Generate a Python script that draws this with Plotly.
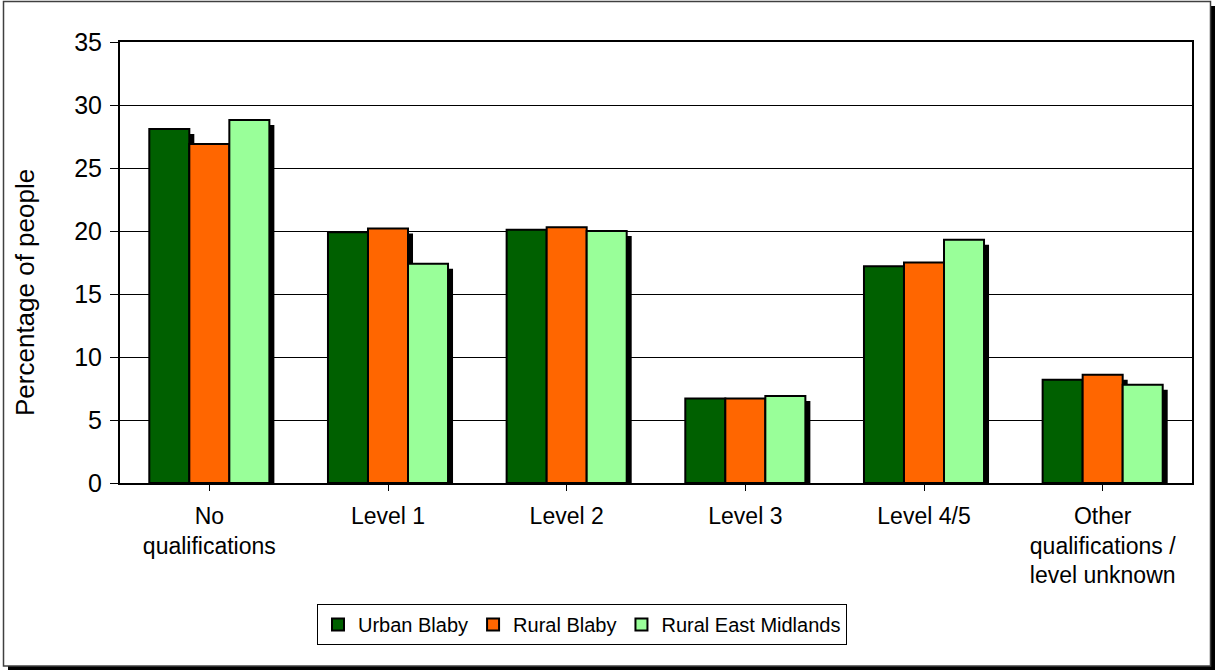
import plotly.graph_objects as go

categories = ["No<br>qualifications", "Level 1", "Level 2", "Level 3", "Level 4/5",
              "Other<br>qualifications /<br>level unknown"]
series_names = ["Urban Blaby", "Rural Blaby", "Rural East Midlands"]
urban_blaby = [28.1, 19.9, 20.1, 6.7, 17.2, 8.2]
rural_blaby = [26.9, 20.2, 20.3, 6.7, 17.5, 8.6]
rural_east_midlands = [28.8, 17.4, 20.0, 6.9, 19.3, 7.8]
y_ticks = [0, 5, 10, 15, 20, 25, 30, 35]

series_values = [urban_blaby, rural_blaby, rural_east_midlands]
colors = ["#006000", "#FF6600", "#99FF99"]

W, H = 1215, 670
L, R, T, B = 120, 1192, 42, 483
plot_w, plot_h = R - L, B - T
ymax = 35
cat_px = plot_w / len(categories)
bar_w = 0.224
sh_dx = 5 / cat_px          # shadow offset in category units
sh_dy = 5 / (plot_h / ymax)  # shadow offset in data units

fig = go.Figure()
offsets = [-1.5 * bar_w, -0.5 * bar_w, 0.5 * bar_w]
x_idx = list(range(len(categories)))

# shadows
for vals, off in zip(series_values, offsets):
    fig.add_trace(go.Bar(
        x=x_idx, y=vals, base=-sh_dy, width=bar_w, offset=off + sh_dx,
        marker=dict(color="black", line=dict(width=0)),
        showlegend=False, hoverinfo="skip"))

# bars
for name, vals, off, c in zip(series_names, series_values, offsets, colors):
    fig.add_trace(go.Bar(
        x=x_idx, y=vals, width=bar_w, offset=off, name=name,
        marker=dict(color=c, line=dict(color="black", width=2))))

def px_x(p):
    return (p - L) / plot_w

def px_y(p):
    return (B - p) / plot_h

fig.update_layout(
    width=W, height=H,
    margin=dict(l=L, r=W - R, t=T, b=H - B),
    barmode="overlay",
    paper_bgcolor="white", plot_bgcolor="rgba(0,0,0,0)",
    font=dict(family="Liberation Sans, Arial, sans-serif", color="black"),
    showlegend=True,
    legend=dict(orientation="h", x=px_x(582), y=px_y(604), xanchor="center", yanchor="top",
                bordercolor="black", borderwidth=1, bgcolor="white",
                font=dict(size=20), traceorder="normal", itemwidth=30),
    xaxis=dict(tickmode="array", tickvals=x_idx, ticktext=categories,
               range=[-0.5, len(categories) - 0.5],
               showline=True, linecolor="black", linewidth=2, mirror=True,
               ticks="outside", ticklen=6, tickcolor="black", tickwidth=1,
               showgrid=False, tickfont=dict(size=23), ticklabelstandoff=5),
    yaxis=dict(range=[0, ymax], tickvals=y_ticks,
               showline=True, linecolor="black", linewidth=2, mirror=True,
               ticks="outside", ticklen=8, tickcolor="black", tickwidth=1,
               showgrid=True, gridcolor="black", gridwidth=1, zeroline=False,
               tickfont=dict(size=25), ticklabelstandoff=3),
    shapes=[
        dict(type="rect", xref="paper", yref="paper", layer="below",
             x0=px_x(8), x1=px_x(1215), y0=px_y(670), y1=px_y(6),
             fillcolor="black", line=dict(width=0)),
        dict(type="rect", xref="paper", yref="paper", layer="below",
             x0=px_x(3.5), x1=px_x(1210.5), y0=px_y(666), y1=px_y(1.5),
             fillcolor="white", line=dict(color="#404040", width=1.5)),
    ],
    annotations=[
        dict(text="Percentage of people", xref="paper", yref="paper",
             x=px_x(25), y=px_y(293), textangle=-90, showarrow=False,
             font=dict(size=26), xanchor="center", yanchor="middle"),
    ],
)

fig.write_html("out.html", config={"displayModeBar": False},
               post_script="document.body.style.margin='0';document.body.style.overflow='hidden';")
